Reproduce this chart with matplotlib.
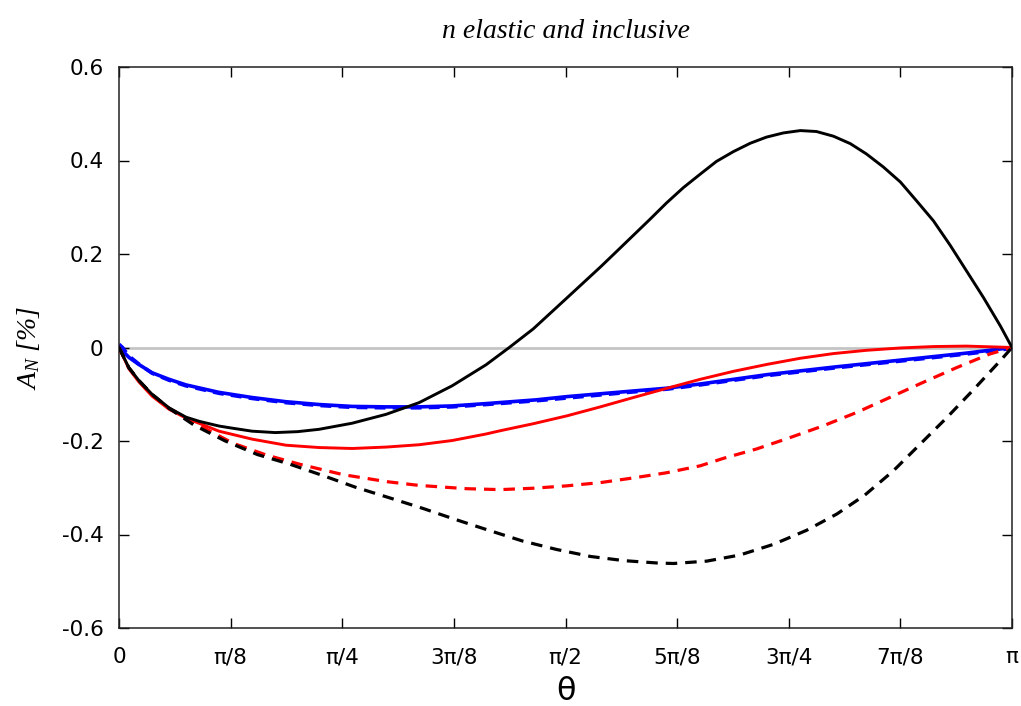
import numpy as np
import matplotlib
matplotlib.use("Agg")
import matplotlib.pyplot as plt

# theta / pi sample points, with A_N in %
black_solid_t = [0, 0.011, 0.022, 0.037, 0.056, 0.075, 0.090, 0.112, 0.125, 0.149, 0.175, 0.200,
                 0.224, 0.261, 0.299, 0.336, 0.373, 0.411, 0.437, 0.464, 0.501, 0.539, 0.557,
                 0.576, 0.595, 0.613, 0.632, 0.651, 0.669, 0.688, 0.707, 0.725, 0.744, 0.763,
                 0.781, 0.800, 0.819, 0.837, 0.856, 0.875, 0.893, 0.912, 0.931, 0.949, 0.968,
                 0.987, 1.0]
black_solid_y = [0, -0.043, -0.070, -0.100, -0.129, -0.149, -0.158, -0.168, -0.172, -0.179, -0.182, -0.180,
                 -0.175, -0.162, -0.143, -0.118, -0.082, -0.037, 0.0, 0.040, 0.105, 0.172, 0.205,
                 0.240, 0.275, 0.309, 0.342, 0.371, 0.398, 0.419, 0.437, 0.450, 0.459, 0.464,
                 0.462, 0.452, 0.436, 0.414, 0.386, 0.354, 0.314, 0.271, 0.218, 0.164, 0.107,
                 0.046, 0.0]

black_dash_t = [0, 0.011, 0.022, 0.037, 0.056, 0.084, 0.119, 0.155, 0.192, 0.230, 0.265, 0.302,
                0.340, 0.377, 0.414, 0.452, 0.490, 0.528, 0.566, 0.603, 0.621, 0.658,
                0.695, 0.733, 0.770, 0.804, 0.835, 0.867, 0.897, 0.927, 0.957, 0.987, 1.0]
black_dash_y = [0, -0.043, -0.070, -0.100, -0.130, -0.166, -0.200, -0.229, -0.250, -0.275, -0.299, -0.321,
                -0.344, -0.368, -0.391, -0.414, -0.432, -0.447, -0.456, -0.461, -0.462, -0.457,
                -0.444, -0.421, -0.391, -0.356, -0.316, -0.264, -0.207, -0.150, -0.090, -0.028, 0.0]

red_solid_t = [0, 0.011, 0.022, 0.037, 0.056, 0.075, 0.112, 0.149, 0.187, 0.224, 0.261, 0.299,
               0.336, 0.373, 0.411, 0.427, 0.464, 0.502, 0.539, 0.576, 0.614, 0.651, 0.688,
               0.726, 0.763, 0.800, 0.837, 0.875, 0.912, 0.949, 1.0]
red_solid_y = [0, -0.045, -0.073, -0.104, -0.132, -0.151, -0.179, -0.196, -0.209, -0.214, -0.216, -0.213,
               -0.208, -0.199, -0.185, -0.178, -0.163, -0.146, -0.127, -0.107, -0.087, -0.068, -0.051,
               -0.036, -0.023, -0.013, -0.006, -0.001, 0.002, 0.003, 0.0]

red_dash_t = [0, 0.011, 0.022, 0.037, 0.056, 0.091, 0.128, 0.165, 0.203, 0.251, 0.300, 0.336,
              0.389, 0.427, 0.464, 0.501, 0.539, 0.576, 0.613, 0.651, 0.677, 0.714, 0.751,
              0.788, 0.826, 0.863, 0.900, 0.938, 0.975, 1.0]
red_dash_y = [0, -0.044, -0.071, -0.101, -0.130, -0.168, -0.205, -0.230, -0.250, -0.272, -0.287, -0.295,
              -0.302, -0.304, -0.301, -0.296, -0.289, -0.279, -0.268, -0.253, -0.237, -0.217, -0.193,
              -0.168, -0.139, -0.107, -0.075, -0.043, -0.014, 0.0]

blue_solid_t = [0, 0.004, 0.011, 0.022, 0.037, 0.056, 0.075, 0.112, 0.149, 0.187, 0.224, 0.261,
                0.299, 0.336, 0.373, 0.411, 0.467, 0.502, 0.576, 0.614, 0.651, 0.726, 0.800,
                0.875, 0.949, 1.0]
blue_solid_y = [0, -0.007, -0.021, -0.036, -0.054, -0.068, -0.080, -0.096, -0.107, -0.116, -0.122, -0.126,
                -0.127, -0.127, -0.125, -0.120, -0.112, -0.105, -0.093, -0.087, -0.078, -0.058, -0.042,
                -0.027, -0.012, 0.0]

blue_dash_t = blue_solid_t
blue_dash_y = [0.007, 0.0, -0.018, -0.035, -0.055, -0.070, -0.082, -0.098, -0.109, -0.118, -0.124, -0.128,
               -0.129, -0.129, -0.127, -0.122, -0.114, -0.108, -0.095, -0.089, -0.080, -0.060, -0.044,
               -0.029, -0.014, -0.002]

x_ticks_frac = [0, 1 / 8, 1 / 4, 3 / 8, 1 / 2, 5 / 8, 3 / 4, 7 / 8, 1]
x_tick_labels = ["0", "π/8", "π/4", "3π/8", "π/2", "5π/8", "3π/4", "7π/8", "π"]
y_ticks = [-0.6, -0.4, -0.2, 0, 0.2, 0.4, 0.6]
y_tick_labels = ["-0.6", "-0.4", "-0.2", "0", "0.2", "0.4", "0.6"]

plt.rcParams["mathtext.fontset"] = "custom"
plt.rcParams["mathtext.it"] = "Liberation Serif:italic"
plt.rcParams["mathtext.rm"] = "Liberation Serif:italic"

fig = plt.figure(figsize=(10.21, 7.06), dpi=100)
ax = fig.add_axes([119 / 1021, 78 / 706, 893 / 1021, 561 / 706])

ax.axhline(0, color="#c4c4c4", lw=2.0, zorder=1)

ax.plot(np.array(blue_dash_t) * np.pi, blue_dash_y, color="#0000ff", lw=2.6,
        dashes=(3, 2), zorder=2)
ax.plot(np.array(blue_solid_t) * np.pi, blue_solid_y, color="#0000ff", lw=2.6, zorder=3)
ax.plot(np.array(red_dash_t) * np.pi, red_dash_y, color="#ff0000", lw=2.3,
        dashes=(3.6, 2.5), zorder=4)
ax.plot(np.array(red_solid_t) * np.pi, red_solid_y, color="#ff0000", lw=2.1, zorder=5)
ax.plot(np.array(black_dash_t) * np.pi, black_dash_y, color="black", lw=2.3,
        dashes=(3.6, 2.5), zorder=6)
ax.plot(np.array(black_solid_t) * np.pi, black_solid_y, color="black", lw=2.1, zorder=7)

ax.set_xlim(0, np.pi)
ax.set_ylim(-0.6, 0.6)
ax.set_xticks(np.array(x_ticks_frac) * np.pi)
ax.set_xticklabels(x_tick_labels)
ax.set_yticks(y_ticks)
ax.set_yticklabels(y_tick_labels)

ax.tick_params(direction="in", length=7, width=1.0, top=True, right=True,
               labelsize=15.5, colors="black")
ax.tick_params(axis="x", pad=14)
ax.tick_params(axis="y", pad=11)
for sp in ax.spines.values():
    sp.set_linewidth(1.1)
    sp.set_color("#222222")

ax.set_xlabel("θ", fontsize=23, labelpad=6)
ax.set_ylabel(r"$A_N\ [\%]$", fontsize=20)
ax.yaxis.set_label_coords(-0.086, 0.5)
ax.set_title("n elastic and inclusive", fontsize=20, fontfamily="Liberation Serif",
             fontstyle="italic", pad=21)

fig.savefig("out.png", dpi=100)
